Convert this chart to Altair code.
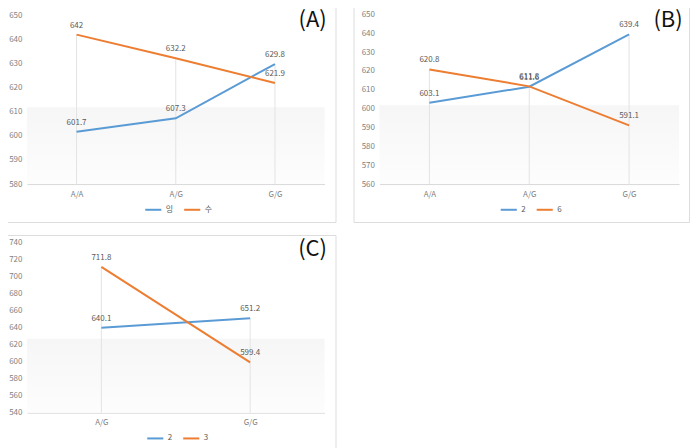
import altair as alt
import pandas as pd

BLUE = "#5B9BD5"
ORANGE = "#ED7D31"

# ---- data ----
a_cats = ["A/A", "A/G", "G/G"]
a_names = ["잉", "수"]
a_s1 = [601.7, 607.3, 629.8]
a_s2 = [642, 632.2, 621.9]
a_ticks = [580, 590, 600, 610, 620, 630, 640, 650]

b_cats = ["A/A", "A/G", "G/G"]
b_names = ["2", "6"]
b_s1 = [603.1, 611.6, 639.4]
b_s2 = [620.8, 611.8, 591.1]
b_ticks = [560, 570, 580, 590, 600, 610, 620, 630, 640, 650]

c_cats = ["A/G", "G/G"]
c_names = ["2", "3"]
c_s1 = [640.1, 651.2]
c_s2 = [711.8, 599.4]
c_ticks = [540, 560, 580, 600, 620, 640, 660, 680, 700, 720, 740]


def fmt(v):
    return ("%g" % v) if float(v).is_integer() else ("%.1f" % v)


def panel(cats, names, s1, s2, ticks, w, h, xr, yr, legx, legy, letter, letx, lety, shade_top):
    rows = []
    for n, vals in ((names[0], s1), (names[1], s2)):
        for c, v in zip(cats, vals):
            rows.append(dict(cat=c, series=n, value=v, label=fmt(v)))
    df = pd.DataFrame(rows)
    drop = pd.DataFrame({"cat": cats,
                         "top": [max(a, b) for a, b in zip(s1, s2)],
                         "base": [ticks[0]] * len(cats)})

    x = alt.X("cat:N", sort=cats,
              scale=alt.Scale(type="point", padding=0.5, range=xr),
              axis=alt.Axis(title=None, orient="bottom", offset=-(h - yr[0]),
                            ticks=False, grid=False, domainColor="#d9d9d9",
                            labelColor="#7f7f7f", labelFontSize=8, labelPadding=6,
                            labelAngle=0))
    yscale = alt.Scale(domain=[ticks[0], ticks[-1]], range=yr, nice=False, zero=False)
    yaxis = alt.Axis(title=None, values=ticks, offset=-xr[0], domain=False,
                     ticks=False, grid=False, labelColor="#7f7f7f",
                     labelFontSize=8, labelPadding=5)

    grad = alt.Gradient(gradient="linear",
                        stops=[alt.GradientStop(color="#f6f6f6", offset=0),
                               alt.GradientStop(color="#fdfdfd", offset=1)],
                        x1=0, x2=0, y1=0, y2=1)
    shade = alt.Chart(pd.DataFrame({"a": [0]})).mark_rect(fill=grad).encode(
        x=alt.value(xr[0]), x2=alt.value(xr[1]),
        y=alt.value(shade_top), y2=alt.value(yr[0]))

    rules = alt.Chart(drop).mark_rule(color="#e3e3e3", strokeWidth=1).encode(
        x=x, y=alt.Y("top:Q", scale=yscale, axis=yaxis), y2="base:Q")

    lines = alt.Chart(df).mark_line(strokeWidth=2).encode(
        x=x, y=alt.Y("value:Q", scale=yscale, axis=yaxis),
        color=alt.Color("series:N", sort=names,
                        scale=alt.Scale(domain=names, range=[BLUE, ORANGE]),
                        legend=alt.Legend(orient="none", legendX=legx, legendY=legy,
                                          direction="horizontal", title=None,
                                          symbolType="stroke", symbolStrokeWidth=2,
                                          symbolSize=260, labelFontSize=8,
                                          labelColor="#595959", columnPadding=6,
                                          labelOffset=3)))

    texts = alt.Chart(df).mark_text(dy=-9, fontSize=8, color="#595959").encode(
        x=x, y=alt.Y("value:Q", scale=yscale, axis=yaxis), text="label:N")

    let = alt.Chart(pd.DataFrame({"t": [letter]})).mark_text(
        fontSize=22, color="#111111", align="center", baseline="top").encode(
        text="t:N", x=alt.value(letx), y=alt.value(lety))

    return alt.layer(shade, rules, lines, texts, let).properties(width=w, height=h)


A = panel(a_cats, a_names, a_s1, a_s2, a_ticks, 334, 220, [25, 323], [182, 13],
          142, 198, "(A)", 311, 8, 105)
B = panel(b_cats, b_names, b_s1, b_s2, b_ticks, 336, 220, [26, 326], [182, 12],
          146, 198, "(B)", 315, 8, 103)
C = panel(c_cats, c_names, c_s1, c_s2, c_ticks, 334, 217, [25, 323], [178, 8],
          144, 194, "(C)", 311, 4, 104)

top = alt.hconcat(A, B, spacing=16).resolve_scale(
    x="independent", y="independent", color="independent").resolve_legend(color="independent")

chart = alt.vconcat(top, C, spacing=11).resolve_scale(
    x="independent", y="independent", color="independent").resolve_legend(
    color="independent").properties(
    padding={"left": -7, "top": -7, "right": 0, "bottom": 0},
    background="white").configure_view(stroke="#d9d9d9", strokeWidth=1).configure(
    font="Noto Sans CJK KR")

chart.save("out.html", embed_options={"renderer": "svg", "actions": False})
